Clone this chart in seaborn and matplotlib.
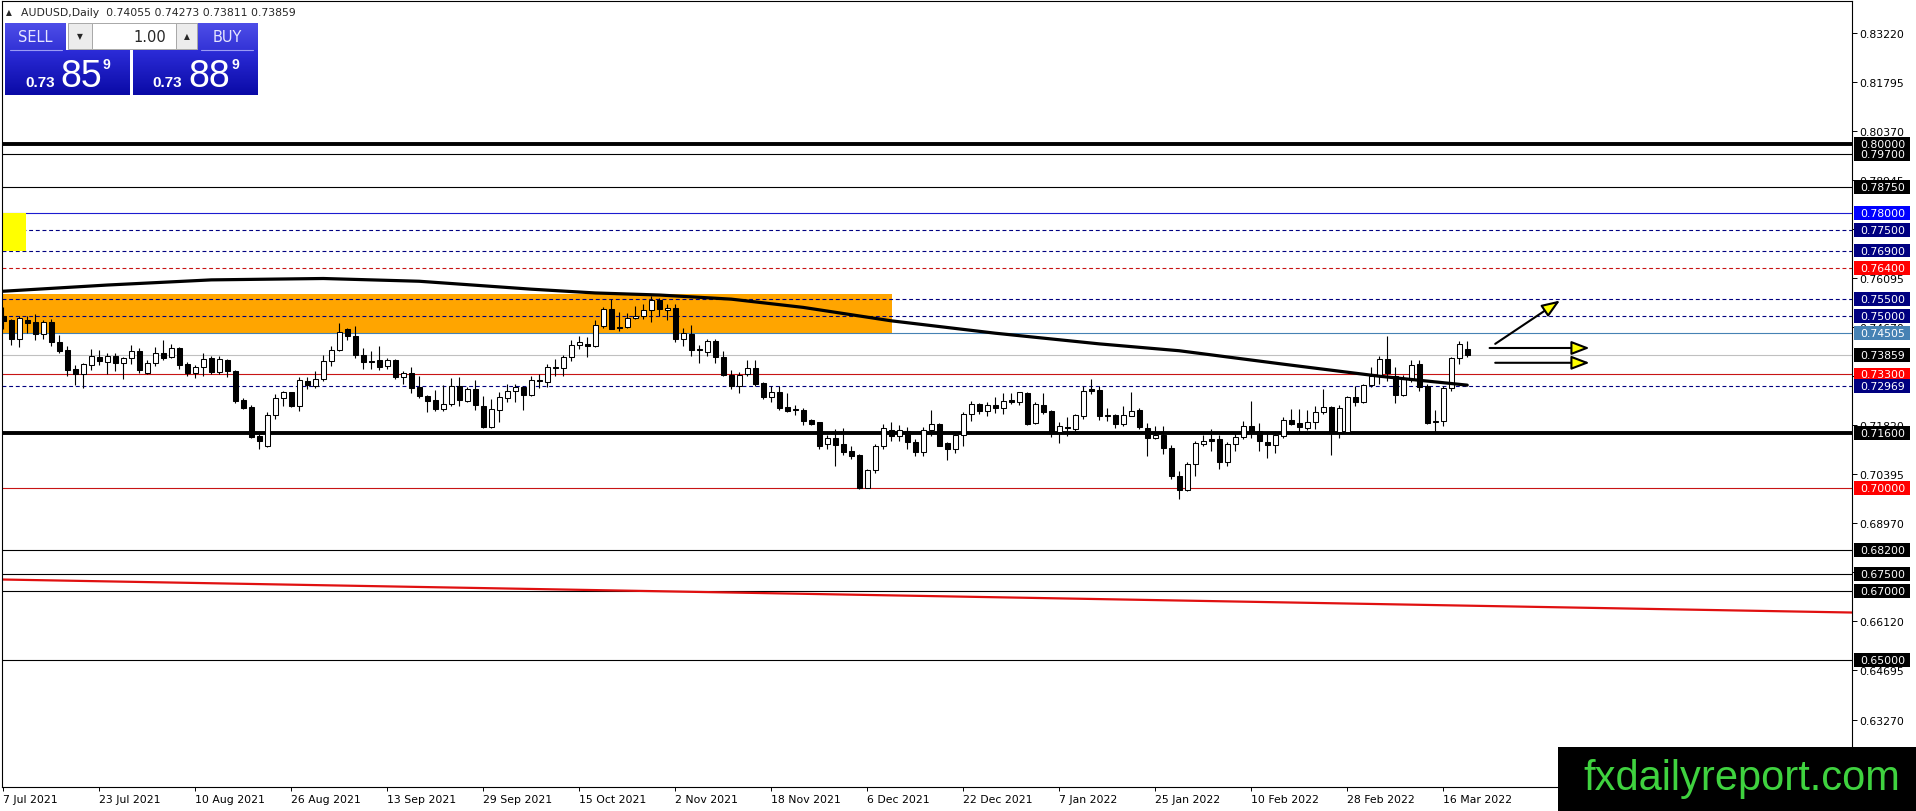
import matplotlib
matplotlib.use('Agg')
import matplotlib.pyplot as plt
import matplotlib.transforms as mtransforms
from matplotlib.patches import Rectangle
from matplotlib.colors import LinearSegmentedColormap
import numpy as np
import pandas as pd
import seaborn as sns

# daily candles, bar 0 = 7 Jul 2021
opens = [0.7501, 0.7487, 0.7432, 0.7489, 0.7484, 0.7449, 0.7484, 0.7424, 0.7402, 0.7346,
         0.7331, 0.7358, 0.7380, 0.7366, 0.7383, 0.7363, 0.7377, 0.7398, 0.7333, 0.7362,
         0.7393, 0.7380, 0.7406, 0.7360, 0.7333, 0.7351, 0.7378, 0.7337, 0.7373, 0.7340,
         0.7256, 0.7235, 0.7150, 0.7121, 0.7211, 0.7261, 0.7278, 0.7238, 0.7310, 0.7296,
         0.7317, 0.7369, 0.7400, 0.7461, 0.7441, 0.7387, 0.7369, 0.7372, 0.7356, 0.7372,
         0.7322, 0.7334, 0.7295, 0.7266, 0.7256, 0.7230, 0.7245, 0.7296, 0.7254, 0.7288,
         0.7238, 0.7177, 0.7228, 0.7261, 0.7283, 0.7293, 0.7271, 0.7314, 0.7308, 0.7352,
         0.7350, 0.7380, 0.7417, 0.7419, 0.7412, 0.7472, 0.7519, 0.7469, 0.7467, 0.7494,
         0.7501, 0.7516, 0.7547, 0.7517, 0.7523, 0.7432, 0.7448, 0.7405, 0.7395, 0.7426,
         0.7380, 0.7329, 0.7296, 0.7332, 0.7348, 0.7305, 0.7264, 0.7278, 0.7235, 0.7230,
         0.7228, 0.7198, 0.7191, 0.7128, 0.7145, 0.7128, 0.7107, 0.7096, 0.7000, 0.7051,
         0.7122, 0.7170, 0.7150, 0.7167, 0.7133, 0.7106, 0.7170, 0.7186, 0.7131, 0.7112,
         0.7154, 0.7215, 0.7244, 0.7225, 0.7241, 0.7232, 0.7255, 0.7251, 0.7276, 0.7188,
         0.7241, 0.7225, 0.7164, 0.7177, 0.7172, 0.7210, 0.7288, 0.7285, 0.7212, 0.7212,
         0.7186, 0.7210, 0.7228, 0.7174, 0.7144, 0.7154, 0.7115, 0.7034, 0.6993, 0.7070,
         0.7129, 0.7143, 0.7143, 0.7077, 0.7128, 0.7148, 0.7180, 0.7167, 0.7135, 0.7126,
         0.7152, 0.7199, 0.7189, 0.7174, 0.7191, 0.7220, 0.7235, 0.7162, 0.7164, 0.7264,
         0.7251, 0.7298, 0.7325, 0.7375, 0.7325, 0.7269, 0.7315, 0.7361, 0.7296, 0.7191,
         0.7196, 0.7290, 0.7377, 0.74055]
highs = [0.7525, 0.7492, 0.7499, 0.7499, 0.7506, 0.7489, 0.7490, 0.7445, 0.7414, 0.7358,
         0.7364, 0.7403, 0.7402, 0.7393, 0.7393, 0.7380, 0.7416, 0.7406, 0.7371, 0.7409,
         0.7430, 0.7419, 0.7409, 0.7366, 0.7358, 0.7393, 0.7383, 0.7383, 0.7375, 0.7344,
         0.7262, 0.7240, 0.7157, 0.7222, 0.7274, 0.7283, 0.7280, 0.7322, 0.7322, 0.7341,
         0.7387, 0.7412, 0.7480, 0.7465, 0.7470, 0.7406, 0.7398, 0.7412, 0.7377, 0.7375,
         0.7341, 0.7351, 0.7325, 0.7271, 0.7285, 0.7300, 0.7319, 0.7322, 0.7293, 0.7315,
         0.7267, 0.7259, 0.7278, 0.7303, 0.7303, 0.7296, 0.7325, 0.7332, 0.7361, 0.7375,
         0.7387, 0.7429, 0.7441, 0.7438, 0.7487, 0.7526, 0.7548, 0.7513, 0.7509, 0.7528,
         0.7535, 0.7558, 0.7552, 0.7535, 0.7535, 0.7465, 0.7474, 0.7416, 0.7434, 0.7434,
         0.7397, 0.7344, 0.7337, 0.7373, 0.7373, 0.7308, 0.7296, 0.7296, 0.7277, 0.7240,
         0.7232, 0.7201, 0.7193, 0.7153, 0.7172, 0.7174, 0.7122, 0.7098, 0.7056, 0.7128,
         0.7186, 0.7191, 0.7183, 0.7176, 0.7141, 0.7176, 0.7228, 0.7189, 0.7135, 0.7160,
         0.7222, 0.7254, 0.7247, 0.7249, 0.7264, 0.7276, 0.7276, 0.7280, 0.7278, 0.7251,
         0.7276, 0.7228, 0.7193, 0.7206, 0.7215, 0.7296, 0.7317, 0.7296, 0.7232, 0.7215,
         0.7239, 0.7278, 0.7232, 0.7189, 0.7181, 0.7181, 0.7125, 0.7048, 0.7077, 0.7138,
         0.7154, 0.7172, 0.7154, 0.7133, 0.7162, 0.7196, 0.7254, 0.7189, 0.7162, 0.7167,
         0.7206, 0.7230, 0.7230, 0.7228, 0.7238, 0.7288, 0.7238, 0.7242, 0.7267, 0.7296,
         0.7303, 0.7351, 0.7383, 0.7441, 0.7351, 0.7329, 0.7371, 0.7371, 0.7303, 0.7228,
         0.7296, 0.7380, 0.7426, 0.74273]
lows = [0.7462, 0.7416, 0.7411, 0.7451, 0.7429, 0.7432, 0.7412, 0.7393, 0.7325, 0.7300,
        0.7292, 0.7344, 0.7359, 0.7331, 0.7339, 0.7317, 0.7361, 0.7333, 0.7331, 0.7356,
        0.7373, 0.7377, 0.7346, 0.7327, 0.7319, 0.7325, 0.7332, 0.7332, 0.7322, 0.7247,
        0.7230, 0.7145, 0.7114, 0.7119, 0.7201, 0.7238, 0.7235, 0.7225, 0.7288, 0.7290,
        0.7310, 0.7356, 0.7397, 0.7429, 0.7377, 0.7346, 0.7346, 0.7343, 0.7346, 0.7317,
        0.7303, 0.7276, 0.7261, 0.7222, 0.7225, 0.7225, 0.7238, 0.7238, 0.7251, 0.7228,
        0.7174, 0.7174, 0.7193, 0.7249, 0.7251, 0.7228, 0.7267, 0.7290, 0.7293, 0.7327,
        0.7325, 0.7370, 0.7404, 0.7380, 0.7409, 0.7465, 0.7461, 0.7455, 0.7465, 0.7492,
        0.7490, 0.7482, 0.7501, 0.7487, 0.7424, 0.7414, 0.7385, 0.7364, 0.7385, 0.7364,
        0.7325, 0.7288, 0.7277, 0.7325, 0.7296, 0.7259, 0.7251, 0.7228, 0.7222, 0.7211,
        0.7184, 0.7182, 0.7114, 0.7114, 0.7065, 0.7096, 0.7085, 0.6996, 0.7000, 0.7044,
        0.7114, 0.7138, 0.7138, 0.7112, 0.7092, 0.7094, 0.7152, 0.7121, 0.7082, 0.7102,
        0.7123, 0.7196, 0.7215, 0.7208, 0.7218, 0.7215, 0.7244, 0.7241, 0.7183, 0.7186,
        0.7215, 0.7147, 0.7131, 0.7150, 0.7167, 0.7201, 0.7273, 0.7199, 0.7196, 0.7174,
        0.7179, 0.7208, 0.7172, 0.7092, 0.7141, 0.7099, 0.7026, 0.6968, 0.6990, 0.7036,
        0.7121, 0.7109, 0.7054, 0.7065, 0.7109, 0.7143, 0.7145, 0.7109, 0.7088, 0.7102,
        0.7145, 0.7184, 0.7162, 0.7170, 0.7172, 0.7216, 0.7096, 0.7145, 0.7162, 0.7238,
        0.7247, 0.7293, 0.7303, 0.7312, 0.7247, 0.7267, 0.7308, 0.7283, 0.7186, 0.7164,
        0.7181, 0.7283, 0.7361, 0.73811]
closes = [0.7486, 0.7432, 0.7494, 0.7480, 0.7449, 0.7482, 0.7424, 0.7397, 0.7344, 0.7331,
          0.7361, 0.7383, 0.7368, 0.7383, 0.7362, 0.7377, 0.7398, 0.7344, 0.7363, 0.7393,
          0.7378, 0.7406, 0.7358, 0.7333, 0.7351, 0.7375, 0.7337, 0.7375, 0.7339, 0.7254,
          0.7234, 0.7148, 0.7138, 0.7211, 0.7261, 0.7278, 0.7238, 0.7315, 0.7298, 0.7317,
          0.7369, 0.7400, 0.7453, 0.7441, 0.7388, 0.7366, 0.7366, 0.7353, 0.7372, 0.7322,
          0.7334, 0.7291, 0.7266, 0.7254, 0.7230, 0.7245, 0.7296, 0.7257, 0.7288, 0.7240,
          0.7177, 0.7230, 0.7264, 0.7283, 0.7293, 0.7271, 0.7314, 0.7310, 0.7351, 0.7350,
          0.7380, 0.7416, 0.7424, 0.7414, 0.7474, 0.7519, 0.7463, 0.7465, 0.7494, 0.7501,
          0.7516, 0.7547, 0.7521, 0.7523, 0.7432, 0.7451, 0.7400, 0.7400, 0.7426, 0.7380,
          0.7329, 0.7296, 0.7329, 0.7348, 0.7303, 0.7264, 0.7278, 0.7232, 0.7225, 0.7227,
          0.7196, 0.7186, 0.7123, 0.7145, 0.7125, 0.7104, 0.7094, 0.7000, 0.7051, 0.7123,
          0.7174, 0.7150, 0.7170, 0.7133, 0.7106, 0.7170, 0.7186, 0.7123, 0.7112, 0.7154,
          0.7215, 0.7244, 0.7225, 0.7241, 0.7232, 0.7254, 0.7251, 0.7278, 0.7186, 0.7244,
          0.7222, 0.7160, 0.7181, 0.7174, 0.7212, 0.7283, 0.7282, 0.7210, 0.7209, 0.7186,
          0.7212, 0.7225, 0.7176, 0.7144, 0.7154, 0.7115, 0.7034, 0.6995, 0.7070, 0.7131,
          0.7138, 0.7138, 0.7077, 0.7128, 0.7148, 0.7180, 0.7164, 0.7138, 0.7126, 0.7154,
          0.7199, 0.7186, 0.7177, 0.7193, 0.7220, 0.7235, 0.7162, 0.7232, 0.7264, 0.7251,
          0.7298, 0.7325, 0.7375, 0.7335, 0.7269, 0.7319, 0.7359, 0.7293, 0.7189, 0.7196,
          0.7290, 0.7377, 0.7419, 0.73859]

date_labels = ['7 Jul 2021', '23 Jul 2021', '10 Aug 2021', '26 Aug 2021', '13 Sep 2021',
               '29 Sep 2021', '15 Oct 2021', '2 Nov 2021', '18 Nov 2021', '6 Dec 2021',
               '22 Dec 2021', '7 Jan 2022', '25 Jan 2022', '10 Feb 2022', '28 Feb 2022',
               '16 Mar 2022']

# moving average (bar index, price)
ma_bars = [0, 13, 26, 40, 52, 66, 74, 82, 91, 100, 111, 124, 137, 147, 160, 172, 183]
ma_vals = [0.7572, 0.7590, 0.7605, 0.7609, 0.7601, 0.7578, 0.7567, 0.7561, 0.7549, 0.7525,
           0.7486, 0.7450, 0.7419, 0.7399, 0.7360, 0.7325, 0.7299]

# long red trend line
trend_bars = [-0.2, 231.1]
trend_vals = [0.6734, 0.6638]

# horizontal levels and their price tags
level_prices = [0.80000, 0.79700, 0.78750, 0.78000, 0.77500, 0.76900, 0.76400, 0.75500,
                0.75000, 0.74505, 0.73859, 0.73300, 0.72969, 0.71600, 0.70000, 0.68200,
                0.67500, 0.67000, 0.65000]
level_colors = ['black', 'black', 'black', '#1c1cd0', '#000080', '#000080', '#c81414', '#000080',
                '#000080', '#4682b4', '#c0c0c0', '#c81414', '#000080', 'black', '#c81414', 'black',
                'black', 'black', 'black']
level_styles = ['-', '-', '-', '-', '--', '--', '--', '--', '--', '-', '-', '-', '--', '-', '-',
                '-', '-', '-', '-']
level_widths = [2.8, 0.8, 0.8, 0.8, 0.8, 0.8, 0.8, 0.8, 0.8, 0.8, 0.8, 0.8, 0.8, 2.8, 0.8,
                0.8, 0.8, 0.8, 0.8]
tag_colors = ['black', 'black', 'black', '#0000ff', '#000080', '#000080', '#ff0000', '#000080',
              '#000080', '#4682b4', 'black', '#ff0000', '#000080', 'black', '#ff0000', 'black',
              'black', 'black', 'black']

axis_ticks = [0.83220, 0.81795, 0.80370, 0.78945, 0.77520, 0.76095, 0.74670, 0.73245,
              0.71820, 0.70395, 0.68970, 0.67545, 0.66120, 0.64695, 0.63270]

# zones (bar range, price range)
orange_zone = [-1, 111.1, 0.7450, 0.7564]
yellow_zone = [-0.2, 2.9, 0.7690, 0.7800]

# arrows drawn right of the last candle: (bar, price) start -> end
arrows = [((186.5, 0.7419), (194.6, 0.7545)),
          ((185.8, 0.7407), (198.3, 0.7407)),
          ((186.5, 0.7364), (198.3, 0.7364))]

W, H = 1916, 812
sns.set_style('white')
plt.rcParams['font.family'] = ['DejaVu Sans']

fig = plt.figure(figsize=(W / 100, H / 100), dpi=100)
ax = fig.add_axes([2 / W, 24 / H, 1850 / W, 786 / H])
ymin, ymax = 0.61308, 0.84157
px_per_unit = 786 / (ymax - ymin)

n = len(closes)
df = pd.DataFrame({'bar': np.arange(n), 'open': opens, 'high': highs,
                   'low': lows, 'close': closes})
df['up'] = df['close'] >= df['open']
df['bottom'] = df[['open', 'close']].min(axis=1)
df['body'] = (df['close'] - df['open']).abs().clip(lower=1.0 / px_per_unit)

# zones
ax.add_patch(Rectangle((orange_zone[0], orange_zone[2]), orange_zone[1] - orange_zone[0],
                       orange_zone[3] - orange_zone[2], fc='#ffa500', ec='none', zorder=0.5))
ax.add_patch(Rectangle((yellow_zone[0], yellow_zone[2]), yellow_zone[1] - yellow_zone[0],
                       yellow_zone[3] - yellow_zone[2], fc='#ffff00', ec='none', zorder=1.5))

# levels
for p, c, ls, lw in zip(level_prices, level_colors, level_styles, level_widths):
    kw = dict(dashes=(3.5, 2.5)) if ls == '--' else {}
    ax.axhline(p, color=c, lw=lw, ls=ls, zorder=1, **kw)

# trend line and moving average through seaborn
sns.lineplot(x=trend_bars, y=trend_vals, ax=ax, color='#e01010', lw=1.6, zorder=1.2)

# candles
ax.vlines(df['bar'], df['low'], df['high'], color='black', lw=0.8, zorder=2)
ax.bar(df['bar'], df['body'], bottom=df['bottom'], width=0.62,
       color=np.where(df['up'], 'white', 'black'), edgecolor='black', linewidth=0.75, zorder=3)

sns.lineplot(x=ma_bars, y=ma_vals, ax=ax, color='black', lw=2.3, zorder=4)

for (x0, y0), (x1, y1) in arrows:
    ax.annotate('', xy=(x1, y1), xytext=(x0, y0), annotation_clip=False, zorder=5,
                arrowprops=dict(arrowstyle='-|>,head_length=1.1,head_width=0.42',
                                fc='#ffff00', ec='black', lw=1.5, shrinkA=0, shrinkB=0))

ax.set_xlim(-0.16, 231.1)
ax.set_ylim(ymin, ymax)

# axes
for s in ax.spines.values():
    s.set_color('black')
    s.set_linewidth(0.8)
ax.yaxis.tick_right()
ax.set_yticks(axis_ticks)
ax.set_yticklabels([f'{v:.5f}' for v in axis_ticks])
ax.tick_params(axis='y', right=True, left=False, length=3.5, width=0.7, pad=2,
               labelsize=7.8, colors='black')
ax.set_xticks(np.arange(0, n, 12))
ax.set_xticklabels(date_labels, ha='left')
ax.tick_params(axis='x', bottom=True, length=3, width=0.7, pad=2, labelsize=7.8, colors='black')
ax.set_xlabel('')
ax.set_ylabel('')
ax.grid(False)

# price tags on the right scale
trans = mtransforms.blended_transform_factory(ax.transAxes, ax.transData)
tag_h = 13.5 / px_per_unit
for p, c in zip(level_prices, tag_colors):
    ax.add_patch(Rectangle((1.0011, p - tag_h / 2), 56 / 1850, tag_h, transform=trans,
                           fc=c, ec='none', clip_on=False, zorder=6))
    ax.text(1.0043, p, f'{p:.5f}', transform=trans, ha='left', va='center',
            color='white', fontsize=7.8, clip_on=False, zorder=7)

# overlay in pixel coordinates for the terminal widgets and logo
ui = fig.add_axes([0, 0, 1, 1])
ui.patch.set_visible(False)
ui.set_zorder(10)


def grad_box(x0, y0, x1, y1, top, bottom):
    cmap = LinearSegmentedColormap.from_list('g', [top, bottom])
    g = np.linspace(0, 1, 64).reshape(-1, 1)
    ui.imshow(g, cmap=cmap, extent=(x0, x1, y1, y0), origin='upper', aspect='auto',
              interpolation='bilinear', zorder=1)


ui.text(6, 13, '\u25b2', fontsize=5.5, va='center', ha='left')
ui.text(21, 13, 'AUDUSD,Daily  0.74055 0.74273 0.73811 0.73859', fontsize=7.8,
        va='center', ha='left')

grad_box(5, 24, 66, 52, '#4e4ee8', '#3232d6')
grad_box(197, 24, 258, 52, '#4e4ee8', '#3232d6')
grad_box(5, 51, 130, 96, '#2c2cd8', '#0a0aa6')
grad_box(133, 51, 258, 96, '#2c2cd8', '#0a0aa6')
ui.plot([10, 62], [50.5, 50.5], color='#9a9af5', lw=0.8, zorder=2)
ui.plot([201, 253], [50.5, 50.5], color='#9a9af5', lw=0.8, zorder=2)
ui.add_patch(Rectangle((68, 24), 24, 26, fc='#ececec', ec='#a8a8a8', lw=0.7, zorder=2))
ui.add_patch(Rectangle((92, 24), 84, 26, fc='white', ec='#a8a8a8', lw=0.7, zorder=2))
ui.add_patch(Rectangle((176, 24), 21, 26, fc='#ececec', ec='#a8a8a8', lw=0.7, zorder=2))
ui.text(80, 37, '\u25bc', fontsize=5.5, ha='center', va='center', zorder=3)
ui.text(186.5, 37, '\u25b2', fontsize=5.5, ha='center', va='center', zorder=3)
ui.text(166, 37.5, '1.00', fontsize=10.5, ha='right', va='center', zorder=3)
ui.text(35, 37.5, 'SELL', fontsize=10.5, ha='center', va='center', color='#e6e6ff', zorder=3)
ui.text(227, 37.5, 'BUY', fontsize=10.5, ha='center', va='center', color='#e6e6ff', zorder=3)

for x_small, x_big, x_sup, big in [(25, 60, 103, '85'), (152, 188, 232, '88')]:
    ui.text(x_small, 87, '0.73', fontsize=11, fontweight='bold', color='white',
            ha='left', va='baseline', zorder=3, family='Liberation Sans')
    ui.text(x_big, 87, big, fontsize=27, color='white', ha='left', va='baseline',
            zorder=3, family='Liberation Sans')
    ui.text(x_sup, 69, '9', fontsize=10, fontweight='bold', color='white',
            ha='left', va='baseline', zorder=3, family='Liberation Sans')

ui.add_patch(Rectangle((1558, 748), W - 1558, H - 748, fc='black', ec='none', zorder=4))
ui.text(1900, 790, 'fxdailyreport.com', fontsize=30, color='#3fd23f', ha='right',
        va='baseline', family='Liberation Sans', zorder=5)

ui.set_xlim(0, W)
ui.set_ylim(H, 0)
ui.axis('off')

fig.savefig('out.png', dpi=100)
